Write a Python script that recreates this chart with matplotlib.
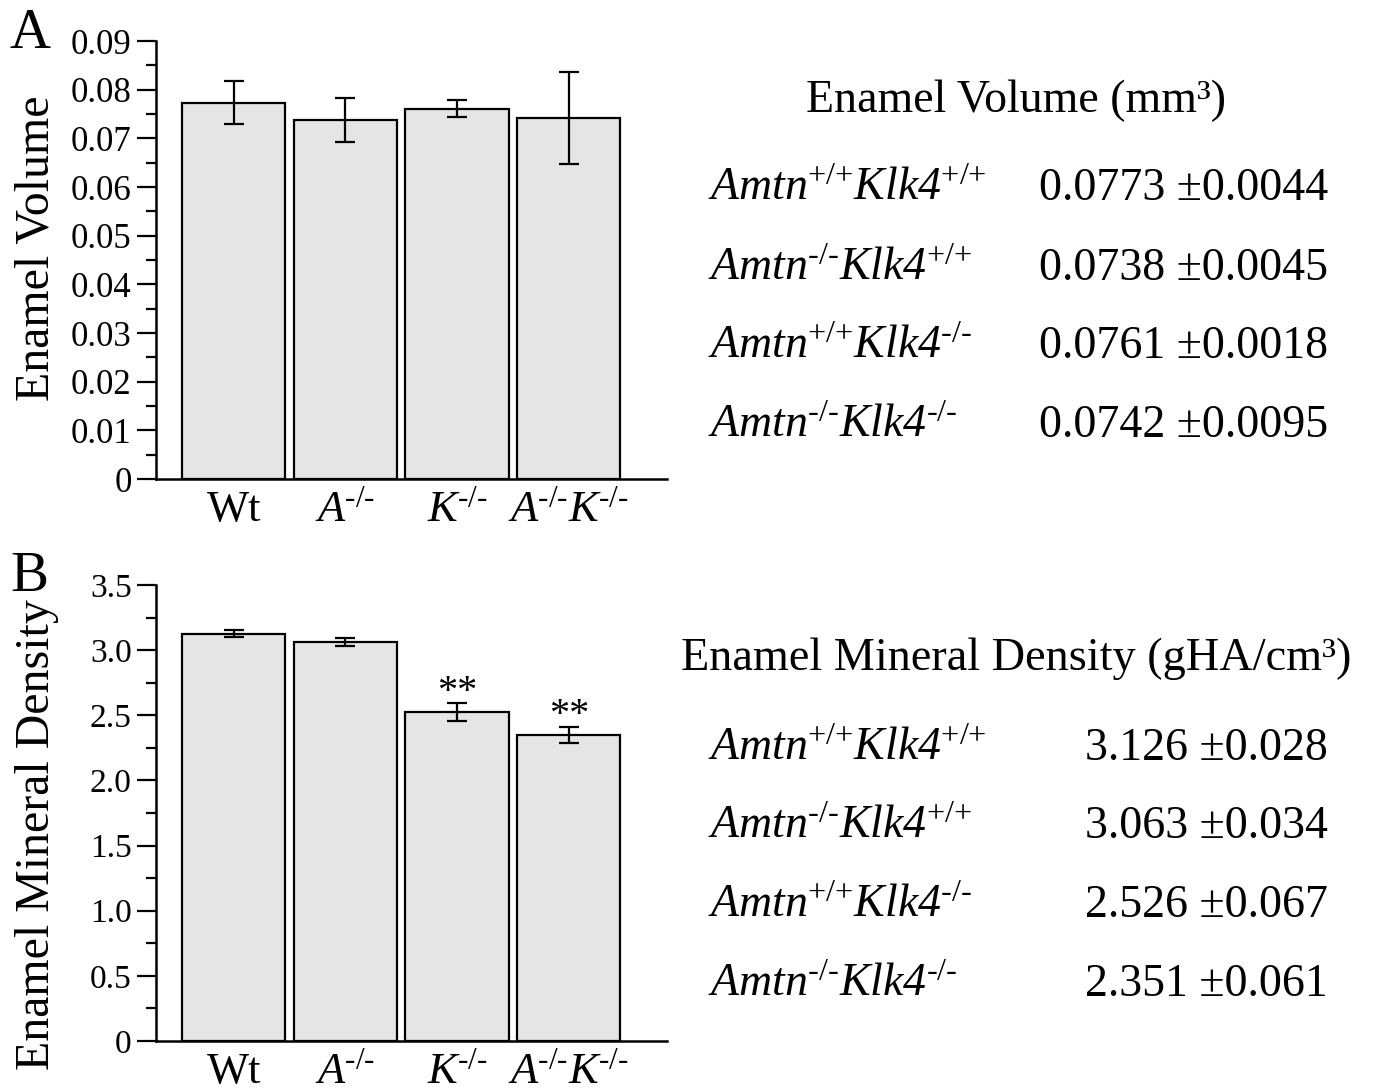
import matplotlib
matplotlib.use("Agg")
import matplotlib.pyplot as plt
from matplotlib.ticker import MultipleLocator, FuncFormatter

plt.rcParams['font.family'] = ['Liberation Serif', 'DejaVu Serif']
plt.rcParams['mathtext.fontset'] = 'custom'
plt.rcParams['mathtext.rm'] = 'Liberation Serif'
plt.rcParams['mathtext.it'] = 'Liberation Serif:italic'
# sf slot used for italic text so that digits stay italic too
plt.rcParams['mathtext.sf'] = 'Liberation Serif:italic'

# data
groups = ['Wt', r'$\mathsf{A}^{\text{-/-}}$', r'$\mathsf{K}^{\text{-/-}}$',
          r'$\mathsf{A}^{\text{-/-}}\mathsf{K}^{\text{-/-}}$']
genotypes = [r'$\mathsf{Amtn}^{\text{+/+}}\mathsf{Klk4}^{\text{+/+}}$',
             r'$\mathsf{Amtn}^{\text{-/-}}\mathsf{Klk4}^{\text{+/+}}$',
             r'$\mathsf{Amtn}^{\text{+/+}}\mathsf{Klk4}^{\text{-/-}}$',
             r'$\mathsf{Amtn}^{\text{-/-}}\mathsf{Klk4}^{\text{-/-}}$']
volume_mean = [0.0773, 0.0738, 0.0761, 0.0742]
volume_sd = [0.0044, 0.0045, 0.0018, 0.0095]
density_mean = [3.126, 3.063, 2.526, 2.351]
density_sd = [0.028, 0.034, 0.067, 0.061]
density_sig = ['', '', '**', '**']

W, H = 1373, 1090
fig = plt.figure(figsize=(W / 100, H / 100), dpi=100)


def px(x, y):
    return x / W, 1 - y / H


def bar_panel(rect, means, sds, ylim, major, minor, fmt, ylabel, tsize):
    ax = fig.add_axes(rect)
    x = list(range(len(means)))
    ax.bar(x, means, width=0.925, color='#e5e5e5', edgecolor='black',
           linewidth=1.6, zorder=2)
    ax.errorbar(x, means, yerr=sds, fmt='none', ecolor='black',
                elinewidth=1.6, capsize=7.5, capthick=1.6, zorder=3)
    ax.set_xlim(-0.695, 3.88)
    ax.set_ylim(*ylim)
    ax.spines['top'].set_visible(False)
    ax.spines['right'].set_visible(False)
    for s in ('left', 'bottom'):
        ax.spines[s].set_linewidth(1.8)
    ax.yaxis.set_major_locator(MultipleLocator(major))
    ax.yaxis.set_minor_locator(MultipleLocator(minor))
    ax.yaxis.set_major_formatter(FuncFormatter(fmt))
    ax.tick_params(axis='y', which='major', length=14, width=1.6,
                   labelsize=tsize, pad=3.5)
    ax.tick_params(axis='y', which='minor', length=7, width=1.6)
    ax.set_xticks(x)
    ax.set_xticklabels(groups)
    ax.tick_params(axis='x', length=0, labelsize=32, pad=8)
    ax.set_ylabel(ylabel, fontsize=34.5)
    return ax


axA = bar_panel([156 / W, 1 - 479 / H, 511 / W, 438 / H],
                volume_mean, volume_sd, (0, 0.09), 0.01, 0.005,
                lambda v, p: '0' if abs(v) < 1e-9 else f'{v:.2f}',
                'Enamel Volume', 25)
axB = bar_panel([156 / W, 1 - 1041 / H, 511 / W, 456 / H],
                density_mean, density_sd, (0, 3.5), 0.5, 0.25,
                lambda v, p: '0' if abs(v) < 1e-9 else f'{v:.1f}',
                'Enamel Mineral Density', 24)
axA.yaxis.set_label_coords(-0.19, 0.527)
axB.yaxis.set_label_coords(-0.19, 0.452)

for i, (m, s, sig) in enumerate(zip(density_mean, density_sd, density_sig)):
    if sig:
        axB.text(i, m + s + 0.01, sig, ha='center', va='baseline', fontsize=29)

# panel letters
fig.text(*px(10, 48), 'A', fontsize=41, va='baseline')
fig.text(*px(10, 591), 'B', fontsize=41, va='baseline')

# summary tables
fig.text(*px(1016, 112), 'Enamel Volume (mm³)', fontsize=33,
         ha='center', va='baseline')
for k, (g, m, s) in enumerate(zip(genotypes, volume_mean, volume_sd)):
    yb = [200, 280, 358, 437][k]
    fig.text(*px(708, yb), g, fontsize=33, ha='left', va='baseline')
    fig.text(*px(1328, yb), f'{m:.4f} ±{s:.4f}', fontsize=33,
             ha='right', va='baseline')

fig.text(*px(1016, 670), 'Enamel Mineral Density (gHA/cm³)', fontsize=33.3,
         ha='center', va='baseline')
for k, (g, m, s) in enumerate(zip(genotypes, density_mean, density_sd)):
    yb = [760, 838, 917, 996][k]
    fig.text(*px(708, yb), g, fontsize=33, ha='left', va='baseline')
    fig.text(*px(1328, yb), f'{m:.3f} ±{s:.3f}', fontsize=33,
             ha='right', va='baseline')

fig.savefig('out.png', dpi=100)
